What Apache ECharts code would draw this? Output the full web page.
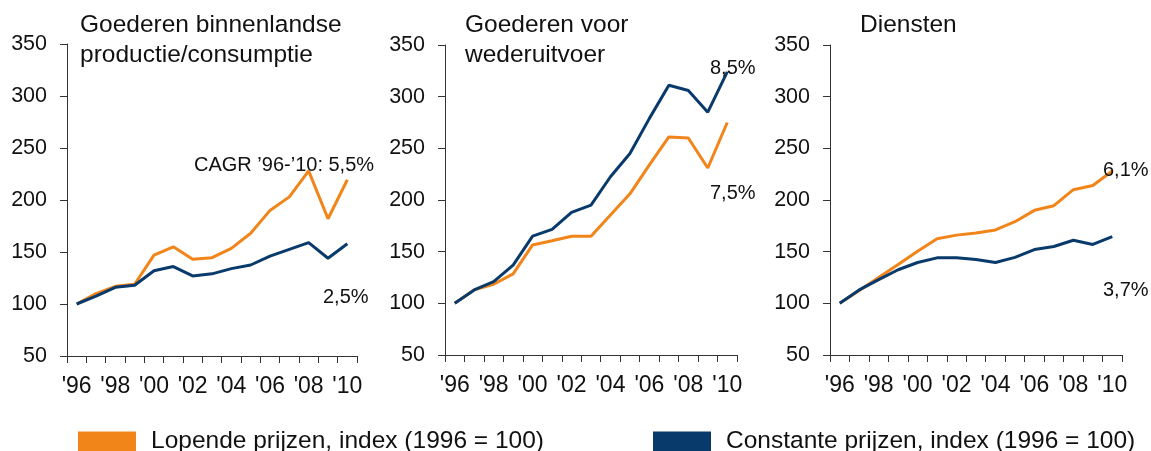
<!DOCTYPE html>
<html>
<head>
<meta charset="utf-8">
<script src="https://cdn.jsdelivr.net/npm/echarts@6/dist/echarts.min.js"></script>
<style>
  html, body { margin: 0; padding: 0; background: #fff; }
  #main { width: 1151px; height: 451px; }
</style>
</head>
<body>
<div id="main"></div>
<script>
const years = ["'96", "'97", "'98", "'99", "'00", "'01", "'02", "'03", "'04", "'05", "'06", "'07", "'08", "'09", "'10"]
const yTicks = [50, 350, 50] // min, max, interval

const panelTitles = ['Goederen binnenlandse\nproductie/consumptie', 'Goederen voor\nwederuitvoer', 'Diensten']
const seriesNames = ['Lopende prijzen, index (1996 = 100)', 'Constante prijzen, index (1996 = 100)']

// Goederen binnenlandse productie/consumptie
const lopendeBinnenlands = [100, 110, 117, 119, 147, 155, 143, 144.5, 153.5, 168, 190, 203, 228, 182, 219.5]
const constantBinnenlands = [100, 107.5, 116, 118, 132, 136, 127, 129, 134, 137.5, 146, 152.5, 159, 144, 158]
// Goederen voor wederuitvoer
const lopendeWederuitvoer = [100, 113, 118.5, 128.5, 156.5, 160.5, 165, 165, 185.5, 206, 234, 261, 260, 231, 275]
const constantWederuitvoer = [100, 113, 121, 137, 165, 171.5, 188, 195, 222.5, 245, 279, 311, 306, 285, 324]
// Diensten
const lopendeDiensten = [100, 112.5, 125, 137.5, 150.5, 162.5, 166, 168, 171, 179, 190, 194.5, 210, 214, 228]
const constantDiensten = [100, 113, 123, 132.5, 139.5, 144, 144, 142.5, 139.5, 144.5, 152, 155, 161, 157, 164.5]

const cagrLabels = ['CAGR \u201996-\u201910: 5,5%', '2,5%', '8,5%', '7,5%', '6,1%', '3,7%']

const orange = '#F18519'
const navy = '#083A6B'
const font = '"Liberation Sans", Arial, sans-serif'

const grids = [
  { left: 67, top: 44, width: 290, height: 312 },
  { left: 445, top: 45, width: 292, height: 310 },
  { left: 830, top: 45, width: 292, height: 310 }
]
const titleLeft = [80, 465, 860]

const lopende = [lopendeBinnenlands, lopendeWederuitvoer, lopendeDiensten]
const constant = [constantBinnenlands, constantWederuitvoer, constantDiensten]

const xAxes = grids.map((g, i) => ({
  type: 'category',
  gridIndex: i,
  data: years,
  boundaryGap: true,
  axisLine: { lineStyle: { color: '#333', width: 1 } },
  axisTick: { show: true, interval: 0, length: 7, lineStyle: { color: '#333' } },
  axisLabel: { interval: 1, margin: 19, fontSize: 23, color: '#111', fontFamily: font }
}))

const yAxes = grids.map((g, i) => ({
  type: 'value',
  gridIndex: i,
  min: yTicks[0],
  max: yTicks[1],
  interval: yTicks[2],
  splitLine: { show: false },
  axisLine: { show: true, lineStyle: { color: '#333', width: 1 } },
  axisTick: { show: true, length: 7, lineStyle: { color: '#333' } },
  axisLabel: { margin: 20, fontSize: 21.5, color: '#111', fontFamily: font }
}))

const series = []
grids.forEach((g, i) => {
  series.push({
    name: seriesNames[0],
    type: 'line',
    xAxisIndex: i,
    yAxisIndex: i,
    data: lopende[i],
    showSymbol: false,
    color: orange,
    lineStyle: { width: 3, color: orange }
  })
  series.push({
    name: seriesNames[1],
    type: 'line',
    xAxisIndex: i,
    yAxisIndex: i,
    data: constant[i],
    showSymbol: false,
    color: navy,
    lineStyle: { width: 3, color: navy }
  })
})
// orange on top in the first panel like the original
series[0].z = 3

const labelPos = [[194, 165], [323, 297], [710, 68], [710, 193], [1103, 170], [1103, 290]]

const chart = echarts.init(document.getElementById('main'))
chart.setOption({
  animation: false,
  backgroundColor: '#fff',
  textStyle: { fontFamily: font },
  title: panelTitles.map((t, i) => ({
    text: t,
    left: titleLeft[i],
    top: 10,
    padding: 0,
    textStyle: { fontSize: 24.5, fontWeight: 'normal', color: '#111', lineHeight: 30, fontFamily: font }
  })),
  legend: seriesNames.map((n, i) => ({
    data: [n],
    left: i === 0 ? 78 : 653,
    top: 429,
    padding: 0,
    icon: 'rect',
    itemWidth: 58,
    itemHeight: 20,
    selectedMode: false,
    textStyle: { fontSize: 24.5, color: '#111', fontFamily: font, padding: [0, 0, 0, 10] }
  })),
  grid: grids,
  xAxis: xAxes,
  yAxis: yAxes,
  series: series,
  graphic: cagrLabels.map((t, i) => ({
    type: 'text',
    x: labelPos[i][0],
    y: labelPos[i][1],
    silent: true,
    z: 10,
    style: { text: t, fill: '#111', font: '20px ' + font, verticalAlign: 'middle' }
  }))
})
</script>
</body>
</html>
